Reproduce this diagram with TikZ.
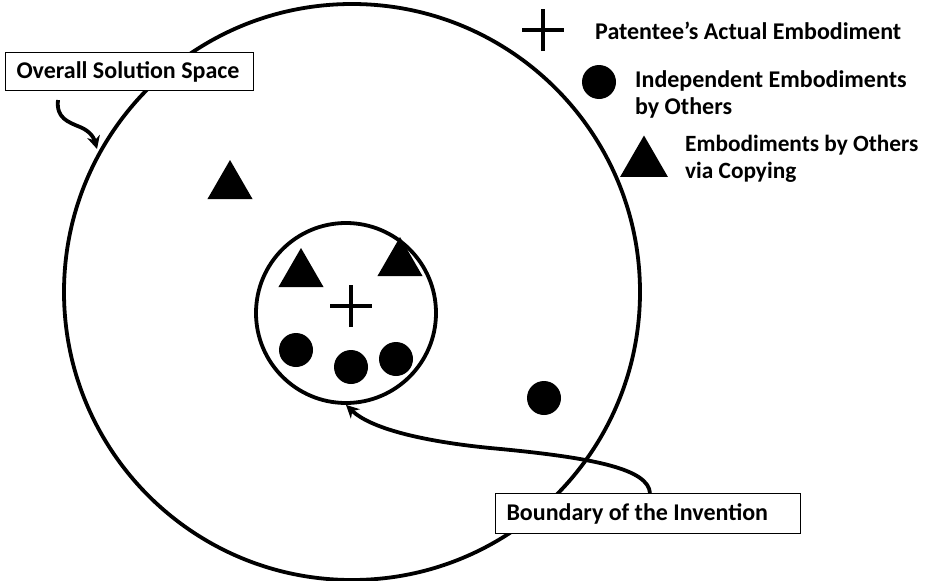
\documentclass[tikz,border=0pt]{standalone}
\usepackage{fontspec}
\setmainfont{Carlito}
\usetikzlibrary{arrows.meta,shapes.geometric}
\begin{document}
\begin{tikzpicture}[x=1pt,y=-1pt,
  ring/.style={circle,draw,line width=3.8pt,inner sep=0pt},
  dotm/.style={circle,fill=black,inner sep=0pt,minimum size=34pt},
  trim/.style={regular polygon,regular polygon sides=3,fill=black,inner sep=0pt,minimum size=52pt},
  labelbox/.style={draw,line width=1pt,fill=white,inner ysep=0pt,inner xsep=11pt,align=flush left,font=\bfseries\fontsize{24}{28}\selectfont,anchor=north west},
  legtext/.style={font=\bfseries\fontsize{24}{27}\selectfont,anchor=west,align=left,inner sep=0pt},
  pointer/.style={line width=3.8pt,-{Stealth[length=13pt,width=13pt]}}]
\useasboundingbox (0,0) rectangle (935,581);
% circles
\node[ring,minimum size=576pt] (outer) at (352,292) {};
\node[ring,minimum size=180pt] (inner) at (346,313) {};
% inner symbols
\node[trim] (t1) at (301,274) {};
\node[trim] (t2) at (400,263) {};
\node[inner sep=0pt] (cross) at (351,306) {};
\draw[line width=4pt] ([xshift=-21pt]cross.center) -- ([xshift=21pt]cross.center)
  ([yshift=-21pt]cross.center) -- ([yshift=21pt]cross.center);
\node[dotm] (d1) at (296,350) {};
\node[dotm] (d2) at (351,367) {};
\node[dotm] (d3) at (396,359) {};
% outer symbols
\node[trim] (t3) at (230,186) {};
\node[dotm] (d4) at (544,398) {};
% legend
\node[inner sep=0pt] (lcross) at (543,30) {};
\draw[line width=4pt] ([xshift=-21pt]lcross.center) -- ([xshift=21pt]lcross.center)
  ([yshift=-21pt]lcross.center) -- ([yshift=21pt]lcross.center);
\node[legtext] (lt1) at (595,31) {Patentee’s Actual Embodiment};
\node[dotm] (ldot) at (599,82) {};
\node[legtext] (lt2) at (635,94) {Independent Embodiments\\by Others};
\node[trim,minimum size=55pt] (ltri) at (644,163) {};
\node[legtext,font=\bfseries\fontsize{23.3}{27}\selectfont] (lt3) at (685,159) {Embodiments by Others\\via Copying};
% label boxes
\node[labelbox,text width=226pt,minimum height=38pt] (oss) at (5,52) {Overall Solution Space};
\node[labelbox,text width=283pt,minimum height=40pt] (bnd) at (495,493) {Boundary of the Invention};
% pointers
\coordinate (ossTail) at (58,100);
\coordinate (ossTip) at (97,149);
\draw[pointer] (ossTail) .. controls (56,118) and (68,122) .. (80,127) .. controls (90,131) and (94,138) .. (ossTip);
\coordinate (c650) at (650,0);
\coordinate (bndTail) at (bnd.north -| c650);
\draw[pointer] (bndTail) .. controls (648,470) and (600,458) .. (490,448) .. controls (420,441) and (370,428) .. (inner.south);
\end{tikzpicture}
\end{document}
